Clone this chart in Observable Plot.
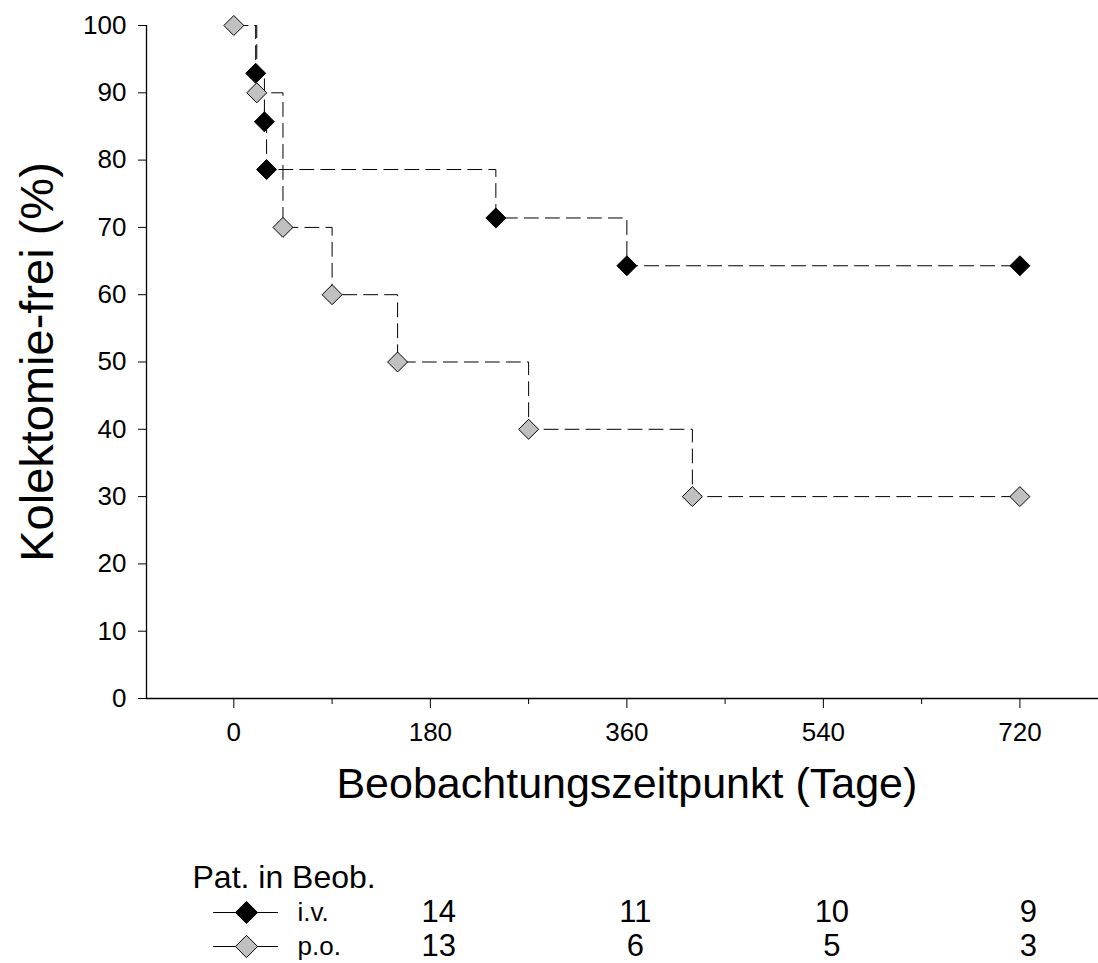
<!DOCTYPE html>
<html>
<head>
<meta charset="utf-8">
<script src="https://cdn.jsdelivr.net/npm/d3@7"></script>
<script src="https://cdn.jsdelivr.net/npm/@observablehq/plot@0.6"></script>
<style>
  html, body { margin: 0; padding: 0; background: #fff; }
  #chart svg { display: block; }
</style>
</head>
<body>
<div id="chart"></div>
<script>
// ---- data ----
const groups = ["i.v.", "p.o."];
// i.v. (black diamonds): event / censor markers
const ivDays = [20, 28, 30, 240, 360, 720];
const ivSurv = [92.9, 85.7, 78.6, 71.4, 64.3, 64.3];
// p.o. (grey diamonds)
const poDays = [0, 21, 45, 90, 150, 270, 420, 720];
const poSurv = [100, 90, 70, 60, 50, 40, 30, 30];
// start of each curve
const startDay = 0, startSurv = 100;
// axis
const xDomain = [-80, 792];
const xMajorTicks = [0, 180, 360, 540, 720];
const xMinorTicks = [90, 270, 450, 630];
const yTicks = [0, 10, 20, 30, 40, 50, 60, 70, 80, 90, 100];
const yLabel = "Kolektomie-frei (%)";
const xLabel = "Beobachtungszeitpunkt (Tage)";
// patients at risk table
const riskTitle = "Pat. in Beob.";
const riskTimes = [0, 180, 360, 540];
const ivRisk = [14, 11, 10, 9];
const poRisk = [13, 6, 5, 3];
const groupFill = {"i.v.": "#000000", "p.o.": "#c0c0c0"};

// ---- build tables ----
const markers = [
  ...ivDays.map((t, i) => ({group: "i.v.", t, s: ivSurv[i]})),
  ...poDays.map((t, i) => ({group: "p.o.", t, s: poSurv[i]}))
];
const linePts = [
  {group: "i.v.", t: startDay, s: startSurv},
  ...ivDays.map((t, i) => ({group: "i.v.", t, s: ivSurv[i]})),
  ...poDays.map((t, i) => ({group: "p.o.", t, s: poSurv[i]}))
];
const riskRows = [
  ...riskTimes.map((t, i) => ({group: "i.v.", t, n: ivRisk[i]})),
  ...riskTimes.map((t, i) => ({group: "p.o.", t, n: poRisk[i]}))
];
const legendSeg = groups.flatMap(g => [{group: g, end: 0}, {group: g, end: 1}]);

const FONT = "'Liberation Sans', Arial, Helvetica, sans-serif";

const main = Plot.plot({
  width: 1098,
  height: 830,
  marginLeft: 146,
  marginRight: 0,
  marginTop: 25,
  marginBottom: 132,
  style: {fontFamily: FONT, fontSize: "26px", color: "#000", background: "#fff"},
  x: {domain: xDomain},
  y: {domain: [0, 100]},
  marks: [
    Plot.axisY({ticks: yTicks, tickSize: 8, tickPadding: 12, label: null, fontSize: 26}),
    Plot.axisX({ticks: xMajorTicks, tickSize: 10, tickPadding: 14, label: null, fontSize: 26}),
    Plot.axisX({ticks: xMinorTicks, tickSize: 6, tickFormat: () => "", label: null}),
    Plot.ruleX([xDomain[0]], {stroke: "#000", strokeWidth: 1.3}),
    Plot.ruleY([0], {stroke: "#000", strokeWidth: 1.3}),
    Plot.line(linePts, {x: "t", y: "s", z: "group", curve: "step-after",
      stroke: "#000", strokeWidth: 1, strokeDasharray: "14,7"}),
    Plot.dot(markers, {x: "t", y: "s", symbol: "diamond2", r: 9,
      fill: d => groupFill[d.group], stroke: "#000", strokeWidth: 1}),
    Plot.text([yLabel], {frameAnchor: "left", textAnchor: "middle", rotate: -90, dx: -109,
      fontSize: 47, fill: "#000"}),
    Plot.text([xLabel], {x: () => 360, frameAnchor: "bottom", textAnchor: "middle", dy: 99,
      fontSize: 43, fill: "#000"})
  ]
});

const table = Plot.plot({
  width: 1098,
  height: 133,
  marginLeft: 146,
  marginRight: 0,
  marginTop: 0,
  marginBottom: 0,
  style: {fontFamily: FONT, fontSize: "26px", color: "#000", background: "#fff"},
  x: {domain: xDomain, axis: null},
  y: {type: "point", domain: groups, range: [82, 116], padding: 0, axis: null},
  marks: [
    Plot.text([riskTitle], {frameAnchor: "top-left", dx: 46, dy: 57,
      textAnchor: "start", lineAnchor: "bottom", fontSize: 32, fill: "#000"}),
    Plot.line(legendSeg, {y: "group", x: d => d.end ? 40 : -18.6, z: "group",
      stroke: "#000", strokeWidth: 1}),
    Plot.dot(groups, {y: d => d, frameAnchor: "left", dx: 100, symbol: "diamond2", r: 10,
      fill: d => groupFill[d], stroke: "#000", strokeWidth: 1}),
    Plot.text(groups, {y: d => d, text: d => d, frameAnchor: "left", dx: 151,
      textAnchor: "start", fontSize: 26, fill: "#000"}),
    Plot.text(riskRows, {x: "t", y: "group", text: d => String(d.n), dx: 205,
      fontSize: 31, fill: "#000"})
  ]
});

document.getElementById("chart").append(main, table);
</script>
</body>
</html>
